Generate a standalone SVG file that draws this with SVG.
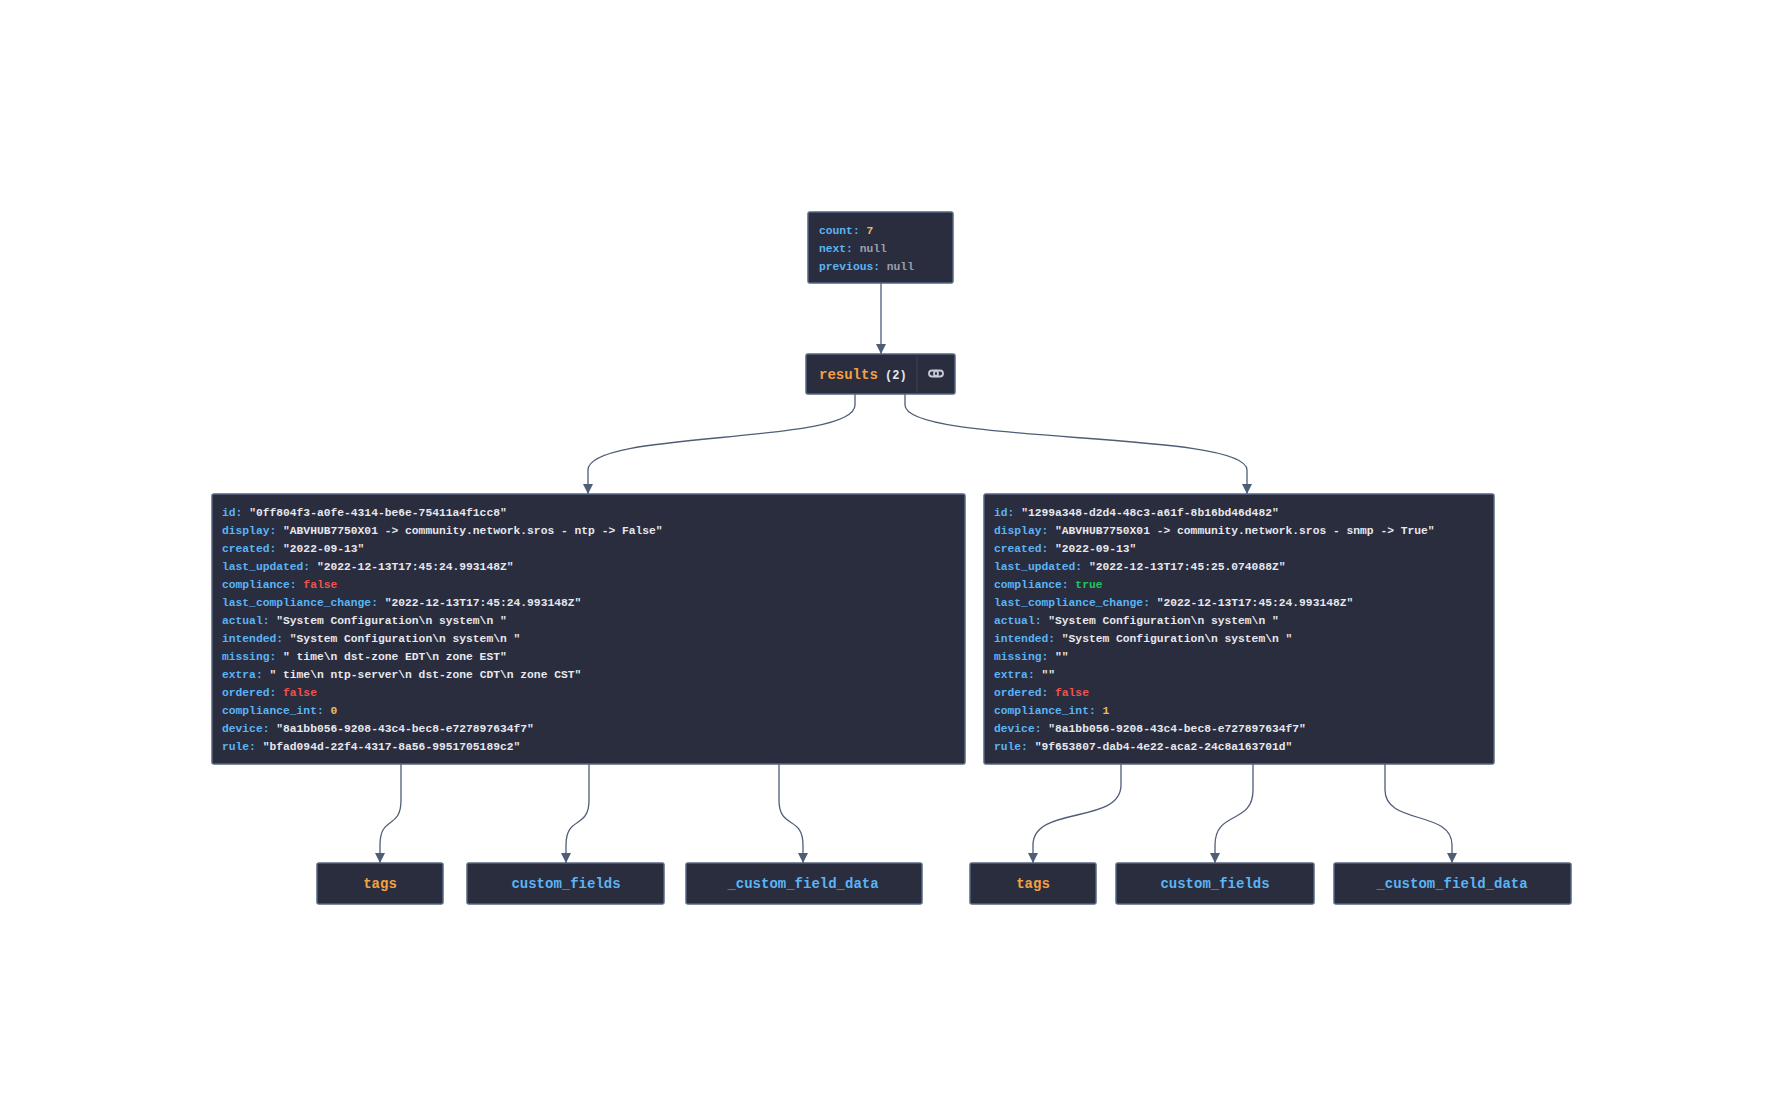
<svg xmlns="http://www.w3.org/2000/svg" width="1776" height="1116" viewBox="0 0 1776 1116">
<style>
.n{fill:#2a2d3e;stroke:#55657f;stroke-width:1.5}
.t{font-family:"Liberation Mono","DejaVu Sans Mono",monospace;font-size:11.3px;font-weight:bold;fill:#e6e8ee}
.k{fill:#5ab4f5}.s{fill:#e6e8ee}.o{fill:#f5a142}.y{fill:#e8bd62}.g{fill:#9aa0aa}.r{fill:#ef5350}.gr{fill:#22c55e}
.b{font-family:"Liberation Mono","DejaVu Sans Mono",monospace;font-size:14px;font-weight:bold;text-anchor:middle}
.e{fill:none;stroke:#4f5d78;stroke-width:1.3}
</style>
<defs><marker id="a" viewBox="0 0 10 10" refX="10" refY="5" markerWidth="10" markerHeight="10" markerUnits="userSpaceOnUse" orient="auto"><path d="M0,0L10,5L0,10z" fill="#4f5d78"/></marker></defs>
<rect width="1776" height="1116" fill="#fff"/>
<g id="edges">
<path class="e" marker-end="url(#a)" d="M881,283L881,354"/>
<path class="e" marker-end="url(#a)" d="M855,394L855,405C855,445 588,430 588,470L588,494"/>
<path class="e" marker-end="url(#a)" d="M905,394L905,405C905,445 1247,430 1247,470L1247,494"/>
<path class="e" marker-end="url(#a)" d="M401,764L401,800C401,830 380,815 380,845L380,863"/>
<path class="e" marker-end="url(#a)" d="M589,764L589,800C589,830 566,815 566,845L566,863"/>
<path class="e" marker-end="url(#a)" d="M779,764L779,800C779,830 803,815 803,845L803,863"/>
<path class="e" marker-end="url(#a)" d="M1121,764L1121,785C1121,825 1033,805 1033,845L1033,863"/>
<path class="e" marker-end="url(#a)" d="M1253,764L1253,790C1253,825 1215,810 1215,845L1215,863"/>
<path class="e" marker-end="url(#a)" d="M1385,764L1385,790C1385,825 1452,810 1452,845L1452,863"/>
</g>
<g id="root">
<rect class="n" x="808" y="212" width="145" height="71" rx="2"/>
<text class="t" x="819" y="234"><tspan class="k">count: </tspan><tspan class="y">7</tspan></text>
<text class="t" x="819" y="252"><tspan class="k">next: </tspan><tspan class="g">null</tspan></text>
<text class="t" x="819" y="270"><tspan class="k">previous: </tspan><tspan class="g">null</tspan></text>
</g>
<g id="results">
<rect class="n" x="806" y="354" width="149" height="40" rx="2"/>
<line x1="917" y1="354" x2="917" y2="394" stroke="#3c4257" stroke-width="1"/>
<text class="b" x="819" y="379" text-anchor="start" style="text-anchor:start"><tspan class="o">results</tspan><tspan class="s" font-size="12"> (2)</tspan></text>
<g fill="none" stroke="#c8ccd6" stroke-width="1.8"><rect x="929" y="370.5" width="9" height="6" rx="3"/><rect x="934" y="370.5" width="9" height="6" rx="3"/></g>
</g>
<g id="item1">
<rect class="n" x="212" y="494" width="753" height="270" rx="2"/>
<text class="t" x="222" y="516"><tspan class="k">id: </tspan>"0ff804f3-a0fe-4314-be6e-75411a4f1cc8"</text>
<text class="t" x="222" y="534"><tspan class="k">display: </tspan>"ABVHUB7750X01 -&gt; community.network.sros - ntp -&gt; False"</text>
<text class="t" x="222" y="552"><tspan class="k">created: </tspan>"2022-09-13"</text>
<text class="t" x="222" y="570"><tspan class="k">last_updated: </tspan>"2022-12-13T17:45:24.993148Z"</text>
<text class="t" x="222" y="588"><tspan class="k">compliance: </tspan><tspan class="r">false</tspan></text>
<text class="t" x="222" y="606"><tspan class="k">last_compliance_change: </tspan>"2022-12-13T17:45:24.993148Z"</text>
<text class="t" x="222" y="624" xml:space="preserve"><tspan class="k">actual: </tspan>"System Configuration\n system\n "</text>
<text class="t" x="222" y="642" xml:space="preserve"><tspan class="k">intended: </tspan>"System Configuration\n system\n "</text>
<text class="t" x="222" y="660" xml:space="preserve"><tspan class="k">missing: </tspan>" time\n dst-zone EDT\n zone EST"</text>
<text class="t" x="222" y="678" xml:space="preserve"><tspan class="k">extra: </tspan>" time\n ntp-server\n dst-zone CDT\n zone CST"</text>
<text class="t" x="222" y="696"><tspan class="k">ordered: </tspan><tspan class="r">false</tspan></text>
<text class="t" x="222" y="714"><tspan class="k">compliance_int: </tspan><tspan class="y">0</tspan></text>
<text class="t" x="222" y="732"><tspan class="k">device: </tspan>"8a1bb056-9208-43c4-bec8-e727897634f7"</text>
<text class="t" x="222" y="750"><tspan class="k">rule: </tspan>"bfad094d-22f4-4317-8a56-9951705189c2"</text>
</g>
<g id="item2">
<rect class="n" x="984" y="494" width="510" height="270" rx="2"/>
<text class="t" x="994" y="516"><tspan class="k">id: </tspan>"1299a348-d2d4-48c3-a61f-8b16bd46d482"</text>
<text class="t" x="994" y="534"><tspan class="k">display: </tspan>"ABVHUB7750X01 -&gt; community.network.sros - snmp -&gt; True"</text>
<text class="t" x="994" y="552"><tspan class="k">created: </tspan>"2022-09-13"</text>
<text class="t" x="994" y="570"><tspan class="k">last_updated: </tspan>"2022-12-13T17:45:25.074088Z"</text>
<text class="t" x="994" y="588"><tspan class="k">compliance: </tspan><tspan class="gr">true</tspan></text>
<text class="t" x="994" y="606"><tspan class="k">last_compliance_change: </tspan>"2022-12-13T17:45:24.993148Z"</text>
<text class="t" x="994" y="624" xml:space="preserve"><tspan class="k">actual: </tspan>"System Configuration\n system\n "</text>
<text class="t" x="994" y="642" xml:space="preserve"><tspan class="k">intended: </tspan>"System Configuration\n system\n "</text>
<text class="t" x="994" y="660"><tspan class="k">missing: </tspan>""</text>
<text class="t" x="994" y="678"><tspan class="k">extra: </tspan>""</text>
<text class="t" x="994" y="696"><tspan class="k">ordered: </tspan><tspan class="r">false</tspan></text>
<text class="t" x="994" y="714"><tspan class="k">compliance_int: </tspan><tspan class="y">1</tspan></text>
<text class="t" x="994" y="732"><tspan class="k">device: </tspan>"8a1bb056-9208-43c4-bec8-e727897634f7"</text>
<text class="t" x="994" y="750"><tspan class="k">rule: </tspan>"9f653807-dab4-4e22-aca2-24c8a163701d"</text>
</g>
<g id="tags1"><rect class="n" x="317" y="863" width="126" height="41" rx="2"/><text class="b o" x="380" y="888">tags</text></g>
<g id="cf1"><rect class="n" x="467" y="863" width="197" height="41" rx="2"/><text class="b k" x="566" y="888">custom_fields</text></g>
<g id="cfd1"><rect class="n" x="686" y="863" width="236" height="41" rx="2"/><text class="b k" x="803" y="888">_custom_field_data</text></g>
<g id="tags2"><rect class="n" x="970" y="863" width="126" height="41" rx="2"/><text class="b o" x="1033" y="888">tags</text></g>
<g id="cf2"><rect class="n" x="1116" y="863" width="198" height="41" rx="2"/><text class="b k" x="1215" y="888">custom_fields</text></g>
<g id="cfd2"><rect class="n" x="1334" y="863" width="237" height="41" rx="2"/><text class="b k" x="1452" y="888">_custom_field_data</text></g>
</svg>
